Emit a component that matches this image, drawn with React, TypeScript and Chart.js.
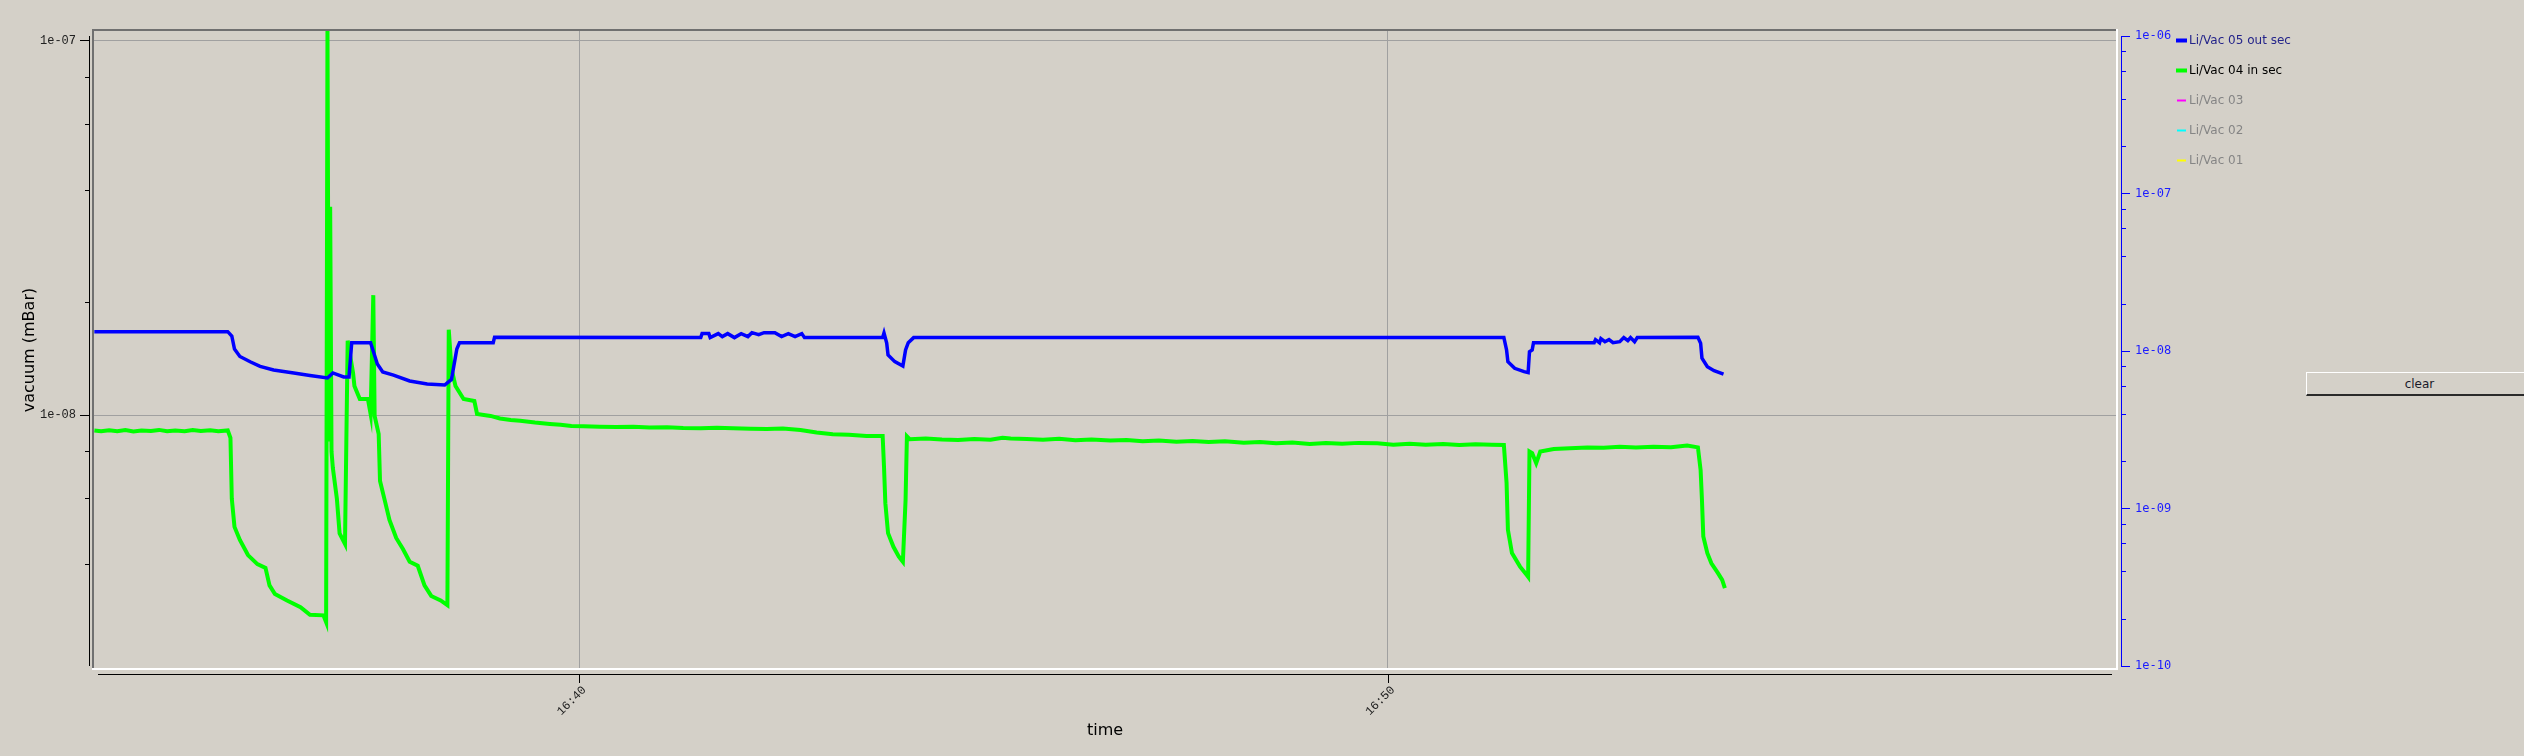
import React, { useEffect, useRef } from 'react';
import { Chart, registerables } from 'chart.js';

Chart.register(...registerables);

// ---------- data ----------
const seriesNames = ['Li/Vac 05 out sec', 'Li/Vac 04 in sec', 'Li/Vac 03', 'Li/Vac 02', 'Li/Vac 01'];
const seriesColors = ['#0000ff', '#00ff00', '#ff00ff', '#00ffff', '#ffff00'];
const legendTextColors = ['#24248a', '#000000', '#858585', '#858585', '#858585'];

const timeRange = ['16:33:59', '16:59:01'];
const xTickLabels = ['16:40', '16:50'];
const leftRange = [2.087e-9, 1.0666e-7];
const rightRange = [9.43e-11, 1.0917e-6];
const leftTickLabels = ['1e-08', '1e-07'];
const rightTickLabels = ['1e-10', '1e-09', '1e-08', '1e-07', '1e-06'];
const minorMultipliers = [2, 4, 6, 8];

const blueTimes = [
  '16:34:00', '16:35:39', '16:35:42', '16:35:44', '16:35:48', '16:35:56', '16:36:03', '16:36:13', '16:36:28', '16:36:40',
  '16:36:53', '16:36:57', '16:37:05', '16:37:09', '16:37:11', '16:37:25', '16:37:26', '16:37:30', '16:37:34', '16:37:42',
  '16:37:54', '16:38:07', '16:38:20', '16:38:25', '16:38:29', '16:38:31', '16:38:56', '16:38:57', '16:41:30', '16:41:31',
  '16:41:36', '16:41:37', '16:41:43', '16:41:46', '16:41:50', '16:41:55', '16:42:00', '16:42:05', '16:42:08', '16:42:13',
  '16:42:17', '16:42:25', '16:42:30', '16:42:35', '16:42:40', '16:42:45', '16:42:47', '16:43:45', '16:43:46', '16:43:48',
  '16:43:49', '16:43:54', '16:44:00', '16:44:02', '16:44:04', '16:44:08', '16:51:26', '16:51:28', '16:51:29', '16:51:34',
  '16:51:41', '16:51:44', '16:51:45', '16:51:47', '16:51:48', '16:52:33', '16:52:34', '16:52:37', '16:52:38', '16:52:41',
  '16:52:44', '16:52:47', '16:52:52', '16:52:55', '16:52:58', '16:53:00', '16:53:03', '16:53:05', '16:53:50', '16:53:52',
  '16:53:53', '16:53:57', '16:54:02', '16:54:09',
];
const blueValues = [
  1.67e-8, 1.67e-8, 1.626e-8, 1.501e-8, 1.434e-8, 1.386e-8, 1.349e-8, 1.319e-8, 1.296e-8, 1.276e-8,
  1.256e-8, 1.296e-8, 1.264e-8, 1.264e-8, 1.561e-8, 1.561e-8, 1.52e-8, 1.369e-8, 1.303e-8, 1.279e-8,
  1.233e-8, 1.211e-8, 1.203e-8, 1.245e-8, 1.501e-8, 1.561e-8, 1.561e-8, 1.613e-8, 1.61e-8, 1.65e-8,
  1.65e-8, 1.61e-8, 1.65e-8, 1.62e-8, 1.65e-8, 1.61e-8, 1.65e-8, 1.62e-8, 1.66e-8, 1.64e-8,
  1.66e-8, 1.66e-8, 1.62e-8, 1.65e-8, 1.62e-8, 1.65e-8, 1.61e-8, 1.61e-8, 1.656e-8, 1.557e-8,
  1.447e-8, 1.389e-8, 1.352e-8, 1.492e-8, 1.56e-8, 1.61e-8, 1.61e-8, 1.492e-8, 1.389e-8, 1.333e-8,
  1.306e-8, 1.298e-8, 1.476e-8, 1.492e-8, 1.56e-8, 1.56e-8, 1.59e-8, 1.56e-8, 1.6e-8, 1.57e-8,
  1.59e-8, 1.56e-8, 1.57e-8, 1.61e-8, 1.58e-8, 1.61e-8, 1.57e-8, 1.61e-8, 1.613e-8, 1.556e-8,
  1.418e-8, 1.346e-8, 1.314e-8, 1.287e-8,
];

const greenTimes = [
  '16:34:00', '16:34:05', '16:34:11', '16:34:17', '16:34:23', '16:34:29', '16:34:35', '16:34:42', '16:34:48', '16:34:54',
  '16:35:00', '16:35:07', '16:35:13', '16:35:19', '16:35:26', '16:35:32', '16:35:39', '16:35:41', '16:35:42', '16:35:44',
  '16:35:48', '16:35:54', '16:36:01', '16:36:07', '16:36:10', '16:36:14', '16:36:23', '16:36:33', '16:36:40', '16:36:50',
  '16:36:52', '16:36:53', '16:36:54', '16:36:55', '16:36:56', '16:36:57', '16:37:00', '16:37:02', '16:37:06', '16:37:07',
  '16:37:08', '16:37:12', '16:37:13', '16:37:17', '16:37:23', '16:37:25', '16:37:26', '16:37:27', '16:37:28', '16:37:31',
  '16:37:32', '16:37:36', '16:37:39', '16:37:44', '16:37:49', '16:37:54', '16:38:00', '16:38:05', '16:38:10', '16:38:17',
  '16:38:22', '16:38:23', '16:38:25', '16:38:28', '16:38:34', '16:38:42', '16:38:44', '16:38:54', '16:39:01', '16:39:09',
  '16:39:16', '16:39:27', '16:39:38', '16:39:46', '16:39:54', '16:40:03', '16:40:15', '16:40:27', '16:40:40', '16:40:52',
  '16:41:05', '16:41:17', '16:41:30', '16:41:42', '16:41:54', '16:42:07', '16:42:19', '16:42:31', '16:42:44', '16:42:56',
  '16:43:08', '16:43:20', '16:43:33', '16:43:45', '16:43:46', '16:43:47', '16:43:49', '16:43:53', '16:43:57', '16:44:00',
  '16:44:02', '16:44:03', '16:44:05', '16:44:17', '16:44:29', '16:44:41', '16:44:53', '16:45:05', '16:45:14', '16:45:20',
  '16:45:32', '16:45:44', '16:45:56', '16:46:08', '16:46:20', '16:46:34', '16:46:46', '16:46:58', '16:47:10', '16:47:23',
  '16:47:35', '16:47:47', '16:47:59', '16:48:13', '16:48:25', '16:48:37', '16:48:49', '16:49:02', '16:49:14', '16:49:26',
  '16:49:38', '16:49:52', '16:50:04', '16:50:16', '16:50:28', '16:50:41', '16:50:53', '16:51:05', '16:51:17', '16:51:26',
  '16:51:28', '16:51:29', '16:51:32', '16:51:38', '16:51:43', '16:51:44', '16:51:45', '16:51:47', '16:51:50', '16:51:53',
  '16:52:03', '16:52:15', '16:52:28', '16:52:40', '16:52:52', '16:53:04', '16:53:17', '16:53:30', '16:53:42', '16:53:50',
  '16:53:52', '16:53:53', '16:53:54', '16:53:57', '16:54:00', '16:54:05', '16:54:08', '16:54:10',
];
const greenValues = [
  9.09e-9, 9.05e-9, 9.11e-9, 9.06e-9, 9.12e-9, 9.04e-9, 9.1e-9, 9.07e-9, 9.13e-9, 9.05e-9,
  9.1e-9, 9.06e-9, 9.12e-9, 9.07e-9, 9.11e-9, 9.06e-9, 9.1e-9, 8.69e-9, 5.98e-9, 5.03e-9,
  4.64e-9, 4.23e-9, 4.0e-9, 3.91e-9, 3.51e-9, 3.33e-9, 3.2e-9, 3.07e-9, 2.93e-9, 2.92e-9,
  2.8e-9, 1.07e-7, 8.5e-9, 3.6e-8, 8.0e-9, 7.22e-9, 5.97e-9, 4.83e-9, 4.53e-9, 8.48e-9,
  1.58e-8, 1.296e-8, 1.196e-8, 1.104e-8, 1.104e-8, 1.007e-8, 1.44e-8, 2.09e-8, 9.95e-9, 8.9e-9,
  6.67e-9, 5.82e-9, 5.25e-9, 4.7e-9, 4.39e-9, 4.06e-9, 3.96e-9, 3.51e-9, 3.29e-9, 3.2e-9,
  3.11e-9, 1.69e-8, 1.331e-8, 1.196e-8, 1.104e-8, 1.09e-8, 1.007e-8, 9.95e-9, 9.79e-9, 9.7e-9,
  9.66e-9, 9.55e-9, 9.47e-9, 9.42e-9, 9.35e-9, 9.33e-9, 9.31e-9, 9.29e-9, 9.31e-9, 9.27e-9,
  9.28e-9, 9.24e-9, 9.22e-9, 9.25e-9, 9.22e-9, 9.2e-9, 9.18e-9, 9.21e-9, 9.12e-9, 8.98e-9,
  8.89e-9, 8.86e-9, 8.8e-9, 8.8e-9, 7.28e-9, 5.82e-9, 4.84e-9, 4.45e-9, 4.19e-9, 4.06e-9,
  5.93e-9, 8.77e-9, 8.62e-9, 8.66e-9, 8.61e-9, 8.58e-9, 8.63e-9, 8.59e-9, 8.7e-9, 8.66e-9,
  8.63e-9, 8.6e-9, 8.64e-9, 8.57e-9, 8.61e-9, 8.55e-9, 8.58e-9, 8.52e-9, 8.56e-9, 8.49e-9,
  8.53e-9, 8.47e-9, 8.51e-9, 8.44e-9, 8.48e-9, 8.41e-9, 8.45e-9, 8.37e-9, 8.42e-9, 8.38e-9,
  8.43e-9, 8.41e-9, 8.34e-9, 8.39e-9, 8.33e-9, 8.37e-9, 8.32e-9, 8.36e-9, 8.33e-9, 8.32e-9,
  6.59e-9, 4.94e-9, 4.28e-9, 3.94e-9, 3.74e-9, 3.7e-9, 7.99e-9, 7.91e-9, 7.44e-9, 7.99e-9,
  8.12e-9, 8.16e-9, 8.2e-9, 8.18e-9, 8.23e-9, 8.2e-9, 8.23e-9, 8.21e-9, 8.29e-9, 8.2e-9,
  7.13e-9, 5.93e-9, 4.74e-9, 4.28e-9, 4.02e-9, 3.78e-9, 3.63e-9, 3.45e-9,
];
const lineWidths = [3.5, 4, 2, 2, 2];

// ---------- helpers ----------
const toSec = (t: string) => {
  const [h, m, s] = t.split(':').map(Number);
  return h * 3600 + m * 60 + (s || 0);
};
const isDecade = (v: number) => Math.abs(Math.log10(v) - Math.round(Math.log10(v))) < 1e-6;
const buildLogTicks = (labels: string[], min: number, max: number) => {
  const out: number[] = [];
  labels.forEach((l) => {
    const d = Number(l);
    out.push(d);
    minorMultipliers.forEach((m) => out.push(d * m));
  });
  const below = Number(labels[0]) / 10;
  minorMultipliers.forEach((m) => out.push(below * m));
  return out.filter((v) => v >= min && v <= max).sort((a, b) => a - b);
};
const decadeLabel = (labels: string[], v: number) => {
  const hit = labels.find((l) => Math.abs(Math.log10(Number(l)) - Math.log10(v)) < 1e-6);
  return hit || '';
};

const decorPlugin = {
  id: 'decor',
  afterDraw(chart: any) {
    const { ctx, chartArea: ca, scales } = chart;
    const y = scales.y;
    const y2 = scales.y2;
    const x = scales.x;
    ctx.save();
    // sunken frame
    ctx.fillStyle = '#707070';
    ctx.fillRect(ca.left - 1, ca.top - 1, ca.right - ca.left + 2, 2);
    ctx.fillRect(ca.left - 1, ca.top - 1, 2, ca.bottom - ca.top + 1);
    ctx.fillStyle = '#ffffff';
    ctx.fillRect(ca.right - 1, ca.top - 1, 2, ca.bottom - ca.top + 1);
    ctx.fillRect(ca.left - 1, ca.bottom - 2, ca.right - ca.left + 2, 2);

    const axTop = ca.top + 6;
    const axBot = ca.bottom - 4;
    // left axis
    ctx.fillStyle = '#000000';
    ctx.fillRect(ca.left - 4, axTop, 1, axBot - axTop);
    y.ticks.forEach((t: any) => {
      const py = Math.round(y.getPixelForValue(t.value));
      if (py < axTop || py > axBot) return;
      const len = isDecade(t.value) ? 9 : 4;
      ctx.fillRect(ca.left - 4 - len, py, len, 1);
    });
    // right axis
    ctx.fillStyle = '#0000ff';
    ctx.fillRect(ca.right + 4, axTop, 1, axBot - axTop + 1);
    y2.ticks.forEach((t: any) => {
      const py = Math.round(y2.getPixelForValue(t.value));
      if (py < axTop - 1 || py > axBot + 1) return;
      const len = isDecade(t.value) ? 8 : 4;
      ctx.fillRect(ca.right + 5, py, len, 1);
    });
    // bottom axis
    ctx.fillStyle = '#000000';
    ctx.fillRect(ca.left + 5, ca.bottom + 4, ca.right - ca.left - 10, 1);
    x.ticks.forEach((t: any) => {
      const px = Math.round(x.getPixelForValue(t.value));
      ctx.fillRect(px, ca.bottom + 4, 1, 9);
    });

    // legend
    const lx = ca.right + 59;
    chart.data.datasets.forEach((ds: any, i: number) => {
      const cy = 40.5 + i * 30;
      ctx.fillStyle = ds.borderColor;
      if (ds.data.length) ctx.fillRect(lx, cy - 2, 11, 4);
      else ctx.fillRect(lx + 1, cy - 1, 9, 2);
      ctx.fillStyle = legendTextColors[i];
      ctx.font = '12px "DejaVu Sans"';
      ctx.textBaseline = 'middle';
      ctx.textAlign = 'left';
      ctx.fillText(ds.label, lx + 13, cy);
    });
    ctx.restore();
  },
};

export default function App() {
  const canvasRef = useRef<HTMLCanvasElement>(null);

  useEffect(() => {
    const leftTicks = buildLogTicks(leftTickLabels, leftRange[0], leftRange[1]);
    const rightTicks = buildLogTicks(rightTickLabels, rightRange[0], rightRange[1]);
    const series = [
      blueTimes.map((t, i) => ({ x: toSec(t), y: blueValues[i] })),
      greenTimes.map((t, i) => ({ x: toSec(t), y: greenValues[i] })),
      [],
      [],
      [],
    ];
    const chart = new Chart(canvasRef.current as HTMLCanvasElement, {
      type: 'line',
      data: {
        datasets: seriesNames.map((name, i) => ({
          label: name,
          data: series[i],
          borderColor: seriesColors[i],
          backgroundColor: seriesColors[i],
          borderWidth: lineWidths[i],
          pointRadius: 0,
          tension: 0,
          fill: false,
          yAxisID: 'y',
          borderJoinStyle: 'miter' as const,
        })),
      },
      options: {
        responsive: false,
        devicePixelRatio: 1,
        animation: false,
        events: [],
        layout: { padding: { left: 0, top: 30, right: 0, bottom: 0 } },
        plugins: { legend: { display: false }, tooltip: { enabled: false } },
        scales: {
          x: {
            type: 'linear',
            min: toSec(timeRange[0]),
            max: toSec(timeRange[1]),
            afterBuildTicks: (s: any) => {
              s.ticks = xTickLabels.map((l) => ({ value: toSec(l) }));
            },
            afterFit: (s: any) => {
              s.height = 86;
            },
            border: { display: false },
            grid: { color: '#a0a0a0', lineWidth: 1, drawTicks: false },
            ticks: {
              autoSkip: false,
              minRotation: 45,
              maxRotation: 45,
              padding: 13,
              labelOffset: 5,
              color: '#202020',
              font: { family: 'Liberation Mono', size: 12 },
              callback: (v: any) => {
                const hit = xTickLabels.find((l) => toSec(l) === Number(v));
                return hit || '';
              },
            },
            title: {
              display: true,
              text: 'time',
              color: '#000000',
              font: { family: 'DejaVu Sans', size: 16 },
              padding: { top: 4, bottom: 16 },
            },
          },
          y: {
            type: 'logarithmic',
            position: 'left',
            min: leftRange[0],
            max: leftRange[1],
            afterBuildTicks: (s: any) => {
              s.ticks = leftTicks.map((v) => ({ value: v, major: isDecade(v) }));
            },
            afterFit: (s: any) => {
              s.width = 93;
            },
            border: { display: false },
            grid: {
              drawTicks: false,
              lineWidth: 1,
              color: (c: any) => (c.tick && isDecade(c.tick.value) ? '#a0a0a0' : 'rgba(0,0,0,0)'),
            },
            ticks: {
              autoSkip: false,
              padding: 17,
              color: '#202020',
              font: { family: 'Liberation Mono', size: 12 },
              callback: (v: any) => decadeLabel(leftTickLabels, Number(v)),
            },
            title: {
              display: true,
              text: 'vacuum (mBar)',
              color: '#000000',
              font: { family: 'DejaVu Sans', size: 16 },
              padding: { top: 20, bottom: 0 },
            },
          },
          y2: {
            type: 'logarithmic',
            position: 'right',
            min: rightRange[0],
            max: rightRange[1],
            afterBuildTicks: (s: any) => {
              s.ticks = rightTicks.map((v) => ({ value: v, major: isDecade(v) }));
            },
            afterFit: (s: any) => {
              s.width = 407;
            },
            border: { display: false },
            grid: { display: true, drawOnChartArea: false, drawTicks: false, color: 'rgba(0,0,0,0)' },
            ticks: {
              autoSkip: false,
              padding: 18,
              color: '#1c1cff',
              font: { family: 'DejaVu Sans Mono', size: 12 },
              callback: (v: any) => decadeLabel(rightTickLabels, Number(v)),
            },
          },
        },
      },
      plugins: [decorPlugin],
    } as any);
    return () => chart.destroy();
  }, []);

  return (
    <div
      style={{
        position: 'fixed',
        left: 0,
        top: 0,
        width: 2524,
        height: 756,
        background: '#d4d0c8',
        overflow: 'hidden',
      }}
    >
      <canvas
        ref={canvasRef}
        width={2524}
        height={756}
        style={{ position: 'absolute', left: 0, top: 0, width: 2524, height: 756 }}
      />
      <div
        style={{
          position: 'absolute',
          left: 2306,
          top: 372,
          width: 226,
          height: 24,
          boxSizing: 'border-box',
          borderTop: '1px solid #ffffff',
          borderLeft: '1px solid #ffffff',
          borderBottom: '2px solid #2a2a2a',
          background: '#d4d0c8',
          color: '#1a1a2a',
          font: '12px "DejaVu Sans"',
          display: 'flex',
          alignItems: 'center',
          justifyContent: 'center',
        }}
      >
        clear
      </div>
    </div>
  );
}
